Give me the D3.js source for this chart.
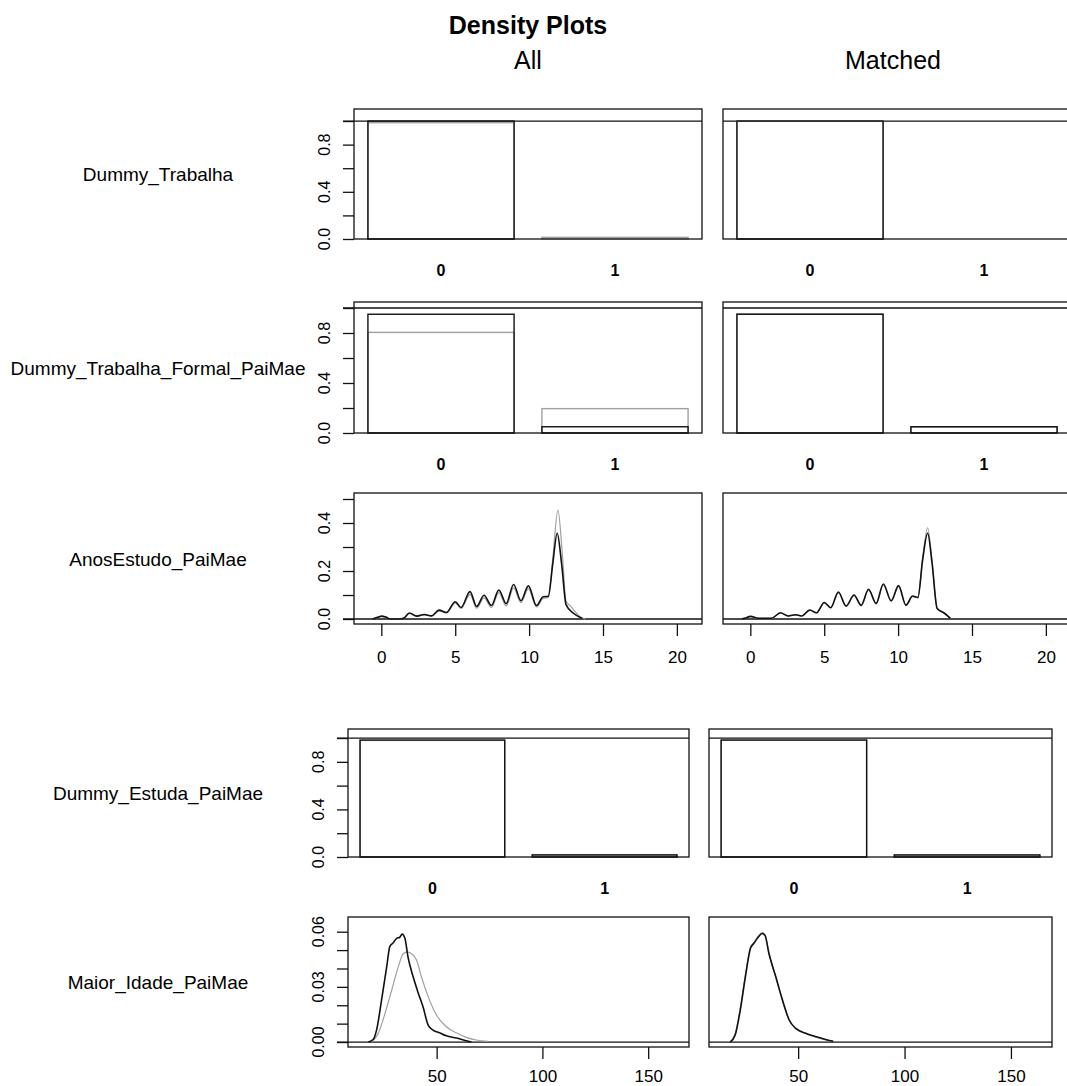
<!DOCTYPE html>
<html>
<head>
<meta charset="utf-8">
<script src="https://cdn.jsdelivr.net/npm/d3@7"></script>
<style>
  body { margin: 0; background: #fff; }
  svg { display: block; font-family: "Liberation Sans", Arial, sans-serif; }
</style>
</head>
<body>
<script>
// ---- data ----
const columnTitles = ["All", "Matched"];
const rowLabels = ["Dummy_Trabalha", "Dummy_Trabalha_Formal_PaiMae", "AnosEstudo_PaiMae",
                   "Dummy_Estuda_PaiMae", "Maior_Idade_PaiMae"];
const binCats = [0, 1];

// binary variables: share in category 0 and 1 (black = treated, gray = control)
const trabAllBlack = [1.0, 0.0];
const trabAllGray = [0.986, 0.014];
const trabMatBlack = [1.0, 0.0];
const trabMatGray = [1.0, 0.0];

const formalAllBlack = [0.95, 0.05];
const formalAllGray = [0.805, 0.195];
const formalMatBlack = [0.95, 0.05];
const formalMatGray = [0.952, 0.048];

const estudaAllBlack = [0.983, 0.017];
const estudaAllGray = [0.98, 0.02];
const estudaMatBlack = [0.983, 0.017];
const estudaMatGray = [0.982, 0.018];

// AnosEstudo_PaiMae densities
const anosAllX = [-0.6, -0.2, 0, 0.3, 0.6, 1.2, 1.5, 1.9, 2.4, 2.9, 3.4, 3.9, 4.4, 5.0, 5.4, 6.0, 6.45, 6.95,
                  7.45, 7.95, 8.45, 8.95, 9.45, 9.95, 10.5, 10.95, 11.3, 11.6, 11.9, 12.2, 12.5, 13.0, 13.6];
const anosAllBlack = [0, 0.008, 0.012, 0.008, 0, 0, 0.003, 0.025, 0.012, 0.019, 0.013, 0.037, 0.027, 0.072, 0.048,
                      0.114, 0.052, 0.099, 0.056, 0.121, 0.064, 0.144, 0.076, 0.138, 0.056, 0.093, 0.095, 0.23,
                      0.357, 0.23, 0.06, 0.024, 0.002];
const anosAllGrayX = [-0.6, -0.2, 0, 0.3, 0.6, 1.2, 1.5, 1.9, 2.4, 2.9, 3.4, 3.9, 4.4, 5.0, 5.4, 6.0, 6.45, 6.95,
                      7.45, 7.95, 8.45, 8.95, 9.45, 9.95, 10.5, 10.95, 11.3, 11.6, 11.95, 12.25, 12.5, 12.8, 13.1, 13.4, 13.8];
const anosAllGray = [0, 0.007, 0.011, 0.007, 0, 0, 0.003, 0.022, 0.011, 0.017, 0.012, 0.033, 0.025, 0.066, 0.044,
                     0.103, 0.045, 0.088, 0.048, 0.11, 0.055, 0.13, 0.068, 0.127, 0.05, 0.086, 0.09, 0.25,
                     0.454, 0.27, 0.075, 0.054, 0.032, 0.012, 0];

const anosMatX = [-0.6, -0.39, 0.02, 0.52, 1.43, 2.04, 2.56, 3.06, 3.46, 4.03, 4.48, 5.0, 5.44, 5.96, 6.48, 7.02,
                  7.5, 8.0, 8.51, 9.0, 9.53, 10.03, 10.53, 10.98, 11.34, 11.66, 12.0, 12.3, 12.64, 13.09, 13.54];
const anosMatBlack = [0, 0.003, 0.011, 0.003, 0.003, 0.026, 0.0125, 0.018, 0.0125, 0.0375, 0.026, 0.069, 0.047,
                      0.1125, 0.054, 0.1, 0.057, 0.124, 0.065, 0.146, 0.076, 0.139, 0.058, 0.096, 0.09, 0.246,
                      0.357, 0.232, 0.044, 0.026, 0.003];
const anosMatGray = [0, 0.003, 0.01, 0.003, 0.003, 0.025, 0.012, 0.017, 0.012, 0.036, 0.025, 0.067, 0.046,
                     0.109, 0.052, 0.097, 0.055, 0.12, 0.063, 0.142, 0.074, 0.135, 0.056, 0.093, 0.088, 0.255,
                     0.38, 0.24, 0.045, 0.026, 0.003];

// Maior_Idade_PaiMae densities
const idadeAllX = [17.7, 20.1, 21.6, 24.0, 26.4, 27.9, 29.5, 31.1, 32.6, 33.7, 35.0, 36.5, 38.9, 41.2, 43.6,
                   46.0, 48.3, 51.4, 54.6, 59.3, 64.0, 66.4];
const idadeAllBlack = [0, 0.0015, 0.0065, 0.023, 0.041, 0.052, 0.054, 0.0564, 0.057, 0.0587, 0.0564, 0.046,
                       0.0355, 0.027, 0.019, 0.0092, 0.0065, 0.005, 0.0034, 0.0022, 0.0007, 0];
const idadeAllGrayX = [19.3, 22.4, 25.6, 28.7, 31.9, 34.2, 36.1, 38.1, 40.5, 42.8, 46.0, 49.9, 54.6, 59.3,
                       64.0, 68.7, 74.2];
const idadeAllGray = [0, 0.0047, 0.0156, 0.028, 0.041, 0.048, 0.049, 0.048, 0.0446, 0.0355, 0.0247, 0.0147,
                      0.0083, 0.005, 0.0025, 0.0011, 0.0004];

const idadeMatX = [18.1, 20.4, 22.8, 25.2, 27.6, 29.2, 31.2, 33.1, 34.4, 36.3, 39.5, 42.6, 45.8, 48.9, 53.8,
                   58.5, 62.5, 66.5];
const idadeMatBlack = [0, 0.0038, 0.0174, 0.0355, 0.051, 0.0537, 0.057, 0.059, 0.058, 0.048, 0.0355, 0.023,
                       0.012, 0.0074, 0.0047, 0.0029, 0.0015, 0.0004];
const idadeMatGray = [0.0003, 0.0045, 0.0185, 0.0365, 0.0515, 0.054, 0.0575, 0.0595, 0.0585, 0.0485, 0.035,
                      0.0225, 0.0118, 0.0072, 0.0045, 0.0027, 0.0013, 0.0003];

// ---- layout ----
const W = 1067, H = 1086;
const topCols = [[354, 702], [723, 1071]];
const botCols = [[348, 689], [709, 1052]];

const rows = [
  { label: rowLabels[0], kind: "bar", cols: topCols, box: [109, 239], yDomain: [0, 1.102],
    yTicks: [0, 0.2, 0.4, 0.6, 0.8, 1.0], yLabels: [0, 0.4, 0.8], fmt: d3.format(".1f"),
    xDomain: [-0.5, 1.5], refLine: 1,
    series: [[trabAllBlack, trabAllGray], [trabMatBlack, trabMatGray]] },
  { label: rowLabels[1], kind: "bar", cols: topCols, box: [302, 433], yDomain: [0, 1.048],
    yTicks: [0, 0.2, 0.4, 0.6, 0.8, 1.0], yLabels: [0, 0.4, 0.8], fmt: d3.format(".1f"),
    xDomain: [-0.5, 1.5], refLine: 1,
    series: [[formalAllBlack, formalAllGray], [formalMatBlack, formalMatGray]] },
  { label: rowLabels[2], kind: "density", cols: topCols, box: [493, 624], yDomain: [-0.0208, 0.525],
    yTicks: [0, 0.1, 0.2, 0.3, 0.4, 0.5], yLabels: [0, 0.2, 0.4], fmt: d3.format(".1f"),
    xDomain: [-1.85, 21.7], xTicks: [0, 5, 10, 15, 20], refLine: 0, pad: 15,
    series: [[[anosAllX, anosAllBlack], [anosAllGrayX, anosAllGray]],
             [[anosMatX, anosMatBlack], [anosMatX, anosMatGray]]] },
  { label: rowLabels[3], kind: "bar", cols: botCols, box: [729, 857], yDomain: [0, 1.076],
    yTicks: [0, 0.2, 0.4, 0.6, 0.8, 1.0], yLabels: [0, 0.4, 0.8], fmt: d3.format(".1f"),
    xDomain: [-0.49, 1.49], refLine: 1,
    series: [[estudaAllBlack, estudaAllGray], [estudaMatBlack, estudaMatGray]] },
  { label: rowLabels[4], kind: "density", cols: botCols, box: [917, 1047], yDomain: [-0.0027, 0.068],
    yTicks: [0, 0.01, 0.02, 0.03, 0.04, 0.05, 0.06], yLabels: [0, 0.03, 0.06], fmt: d3.format(".2f"),
    xDomain: [8.1, 169.3], xTicks: [50, 100, 150], refLine: 0, pad: 11,
    series: [[[idadeAllX, idadeAllBlack], [idadeAllGrayX, idadeAllGray]],
             [[idadeMatX, idadeMatBlack], [idadeMatX, idadeMatGray]]] }
];

const BLACK = "#111", GRAY = "#a0a0a0";

const svg = d3.select("body").append("svg")
    .attr("width", W)
    .attr("height", H);

svg.append("text")
    .attr("x", 528).attr("y", 34)
    .attr("text-anchor", "middle")
    .style("font-size", "25px").style("font-weight", "bold")
    .text("Density Plots");

topCols.forEach((c, i) => {
  svg.append("text")
      .attr("x", (c[0] + c[1]) / 2 - (i ? 4 : 0)).attr("y", 69)
      .attr("text-anchor", "middle")
      .style("font-size", "25px")
      .text(columnTitles[i]);
});

rows.forEach(row => {
  const [top, bottom] = row.box;

  svg.append("text")
      .attr("x", 158).attr("y", (top + bottom) / 2 + 2)
      .attr("text-anchor", "middle")
      .attr("dominant-baseline", "middle")
      .style("font-size", "19px")
      .text(row.label);

  row.cols.forEach((c, ci) => {
    const x = d3.scaleLinear().domain(row.xDomain).range(c);
    const y = d3.scaleLinear().domain(row.yDomain).range([bottom, top]);
    const g = svg.append("g");

    // reference line (tick-length extension on the left, as drawn in the picture)
    g.append("line")
        .attr("x1", ci === 0 ? c[0] - 11 : c[0]).attr("x2", c[1])
        .attr("y1", y(row.refLine)).attr("y2", y(row.refLine))
        .attr("stroke", BLACK).attr("stroke-width", 1.3);

    if (row.kind === "bar") {
      const [blk, gry] = row.series[ci];
      [[gry, GRAY], [blk, BLACK]].forEach(([vals, col]) => {
        g.selectAll(null)
          .data(binCats)
          .enter().append("rect")
            .attr("x", d => x(d - 0.42))
            .attr("width", d => x(d + 0.42) - x(d - 0.42))
            .attr("y", d => y(vals[d]))
            .attr("height", d => y(0) - y(vals[d]))
            .attr("fill", "none")
            .attr("stroke", col)
            .attr("stroke-width", 1.4);
      });
      g.selectAll(null)
        .data(binCats)
        .enter().append("text")
          .attr("x", d => x(d)).attr("y", bottom + 33)
          .attr("text-anchor", "middle")
          .attr("dominant-baseline", "middle")
          .style("font-size", "16px").style("font-weight", "bold")
          .text(d => d);
    } else {
      const line = d3.line()
          .x(d => x(d[0]))
          .y(d => y(d[1]))
          .curve(d3.curveMonotoneX);
      const [blk, gry] = row.series[ci];
      [[gry, GRAY, 1.2], [blk, BLACK, 1.6]].forEach(([s, col, w]) => {
        g.append("path")
            .datum(d3.zip(s[0], s[1]))
            .attr("d", line)
            .attr("fill", "none")
            .attr("stroke", col)
            .attr("stroke-width", w);
      });
      const xAxis = d3.axisBottom(x).tickValues(row.xTicks).tickSize(12).tickPadding(row.pad);
      const ax = g.append("g")
          .attr("transform", `translate(0,${bottom})`)
          .call(xAxis);
      ax.select(".domain").remove();
      ax.selectAll(".tick line").attr("stroke", BLACK).attr("stroke-width", 1.3);
      ax.selectAll(".tick text")
          .attr("fill", "#000")
          .style("font-size", "17px")
          .style("font-family", "'Liberation Sans', Arial, sans-serif");
    }

    // frame
    g.append("rect")
        .attr("x", c[0]).attr("y", top)
        .attr("width", c[1] - c[0]).attr("height", bottom - top)
        .attr("fill", "none")
        .attr("stroke", BLACK).attr("stroke-width", 1.3);

    // y axis only on the left column
    if (ci === 0) {
      const yAxis = d3.axisLeft(y).tickValues(row.yTicks).tickSize(11).tickFormat("");
      const ay = g.append("g")
          .attr("transform", `translate(${c[0]},0)`)
          .call(yAxis);
      ay.select(".domain").remove();
      ay.selectAll(".tick line").attr("stroke", BLACK).attr("stroke-width", 1.3);
      g.selectAll(null)
        .data(row.yLabels)
        .enter().append("text")
          .attr("transform", d => `translate(${c[0] - 28},${y(d)}) rotate(-90)`)
          .attr("text-anchor", "middle")
          .attr("dominant-baseline", "middle")
          .style("font-size", "16px")
          .text(d => row.fmt(d));
    }
  });
});
</script>
</body>
</html>
